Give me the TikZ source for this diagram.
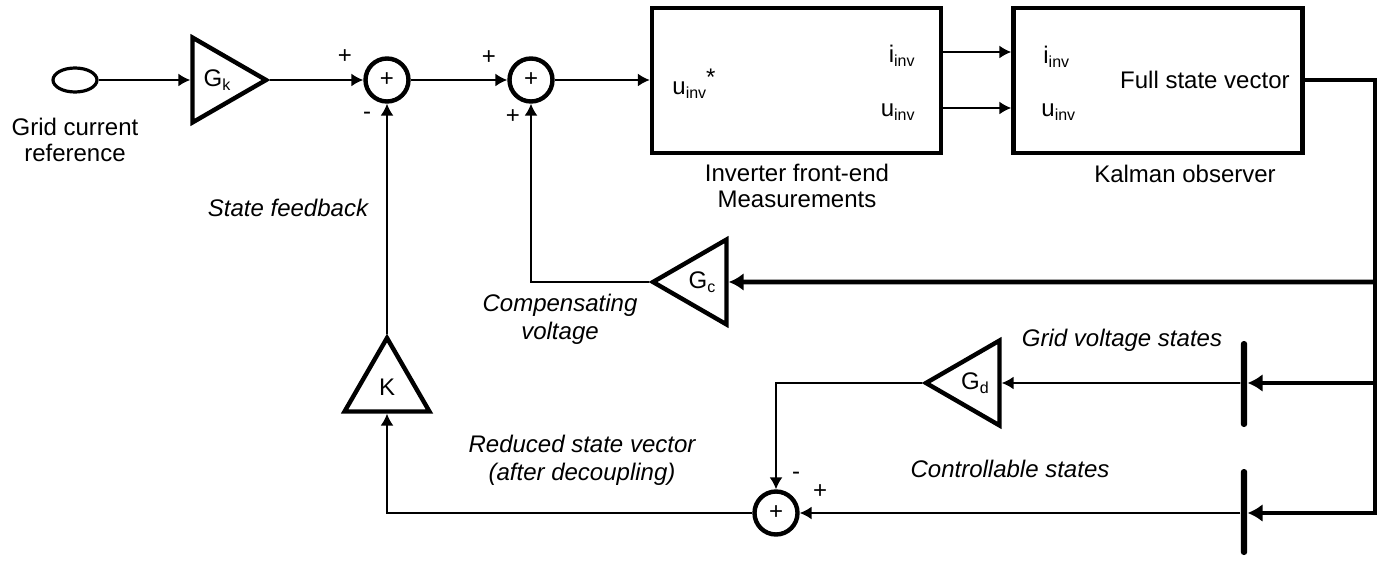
\documentclass[tikz,border=0pt]{standalone}
\usepackage{fontspec}
\setmainfont{Liberation Sans}
\usetikzlibrary{shapes.geometric,arrows.meta,calc}
\newcommand\sbs[1]{\raisebox{-0.35ex}{\fontsize{8}{8}\selectfont #1}}
\begin{document}
\begin{tikzpicture}[x=0.5pt,y=-0.5pt,
 font=\fontsize{12}{13}\selectfont,
 thinline/.style={line width=0.9pt},
 bus/.style={line width=2.4pt},
 arr/.style={-{Latex[length=6pt,width=6.5pt]}},
 busarr/.style={-{Latex[length=7.5pt,width=9pt]}},
 gain/.style={regular polygon, regular polygon sides=3, draw, line width=2.2pt, inner sep=0pt, minimum size=49pt},
 sumnode/.style={circle, draw, line width=2.2pt, inner sep=0pt, minimum size=21.5pt, font=\fontsize{12}{12}\selectfont},
 blk/.style={rectangle, draw, line width=2.2pt, minimum width=144.5pt, minimum height=72.5pt},
 bar/.style={rectangle, fill=black, inner sep=0pt, minimum width=3.2pt, minimum height=43pt, rounded corners=1.5pt},
 sgn/.style={font=\fontsize{12}{12}\selectfont, inner sep=0pt},
 lab/.style={align=center, inner sep=0pt},
 ilab/.style={align=center, inner sep=0pt, font=\fontsize{12}{14}\selectfont\itshape},
]
\useasboundingbox (0,0) rectangle (1391,561);
% blocks
\node[ellipse, draw, line width=1.6pt, minimum width=22pt, minimum height=12pt, inner sep=0pt] (ref) at (75,80) {};
\node[lab] (reft) at (75,140) {Grid current\\reference};
\node[gain, shape border rotate=-90] (gk) at (217,80) {G\sbs{k}};
\node[sumnode] (s1) at (387,80) {+};
\node[sumnode] (s2) at (531,80) {+};
\node[blk] (inv) at (796.5,80.5) {};
\node[blk] (kal) at (1158,80.5) {};
\node[gain, shape border rotate=90] (gc) at (702,282) {G\sbs{c}};
\node[gain] (K) at (387,387) {K};
\node[gain, shape border rotate=90] (gd) at (975,383) {G\sbs{d}};
\node[sumnode] (s3) at (776,513) {+};
\node[bar] (bar1) at (1244,384) {};
\node[bar] (bar2) at (1244,512) {};
% helper coordinates
\coordinate (yi) at (0,52);
\coordinate (yu) at (0,108);
\coordinate (j0) at (1375,80);
\coordinate (j1) at (1375,282);
\coordinate (j2) at (1375,383);
\coordinate (j3) at (1375,513);
% connectors
\draw[thinline, arr] (ref) -- (gk.west |- ref);
\draw[thinline, arr] (gk.corner 1) -- (s1.west |- gk.corner 1);
\draw[thinline, arr] (s1) -- (s2);
\draw[thinline, arr] (s2) -- (inv.west |- s2);
\draw[thinline, arr] (inv.east |- yi) -- (kal.west |- yi);
\draw[thinline, arr] (inv.east |- yu) -- (kal.west |- yu);
\draw[bus, busarr] (kal.east |- j0) -- (j0) -- (j3) -- (bar2.east |- j3);
\draw[bus, busarr] (j1) -- (gc.east);
\draw[bus, busarr] (j2) -- (bar1.east |- j2);
\draw[thinline, arr] (bar1.west |- j2) -- (gd.east);
\draw[thinline, arr] (bar2.west |- s3) -- (s3);
\draw[thinline, arr] (gd.corner 1) -| (s3.north);
\draw[thinline, arr] (s3.west) -| (K.south);
\draw[thinline, arr] (K.corner 1) -- (s1.south);
\draw[thinline, arr] (gc.corner 1) -| (s2.south);
% texts
\node[lab, anchor=west] (uref) at (672,84) {u\sbs{inv}\raisebox{0.7ex}{*}};
\node[lab, anchor=east] (iinv) at (915,56) {i\sbs{inv}};
\node[lab, anchor=east] (uinv) at (915,112) {u\sbs{inv}};
\node[lab, anchor=west] (ik) at (1043,57) {i\sbs{inv}};
\node[lab, anchor=west] (uk) at (1041,112) {u\sbs{inv}};
\node[lab, anchor=east] (fsv) at (1290,80) {Full state vector};
\node[lab] (invt) at (797,186) {Inverter front-end\\Measurements};
\node[lab] (kalt) at (1185,174) {Kalman observer};
\node[ilab] (sft) at (288,208) {State feedback};
\node[ilab] (cvt) at (560,319) {Compensating\\voltage};
\node[ilab] (rsv) at (582,460) {Reduced state vector\\(after decoupling)};
\node[ilab] (gvs) at (1122,340) {Grid voltage states};
\node[ilab] (cst) at (1010,469) {Controllable states};
\node[sgn] (p1) at (345,57) {+};
\node[sgn] (m1) at (367,116) {-};
\node[sgn] (p2) at (489,58) {+};
\node[sgn] (p3) at (513,117) {+};
\node[sgn] (m3) at (796,476) {-};
\node[sgn] (p4) at (820,492) {+};
\end{tikzpicture}
\end{document}
